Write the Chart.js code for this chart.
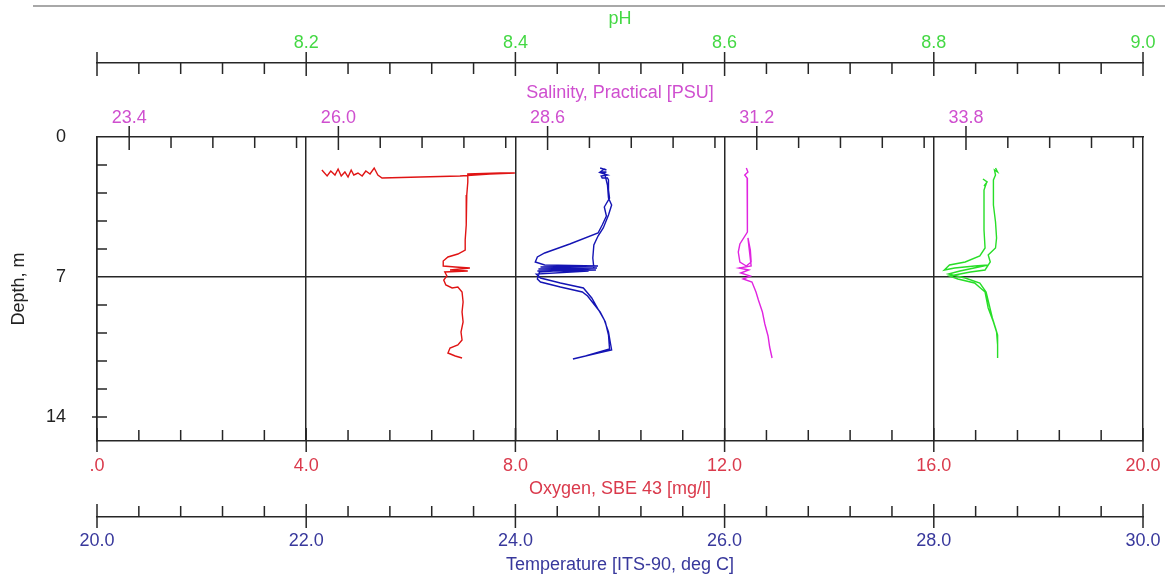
<!DOCTYPE html>
<html>
<head>
<meta charset="utf-8">
<title>CTD cast profile</title>
<script src="https://cdn.jsdelivr.net/npm/chart.js@4.4.0/dist/chart.umd.min.js"></script>
<style>
  body { margin: 0; background: #fff; }
  #wrap { position: relative; width: 1165px; height: 579px; }
  #topRule { position: absolute; left: 33px; right: 0; top: 5px; height: 2px; background: #a8a8a8; }
</style>
</head>
<body>
<div id="wrap">
  <canvas id="profile" width="1165" height="579"></canvas>
  <div id="topRule"></div>
</div>
<script>
// Axis tick values
const phTicks = [8.0, 8.2, 8.4, 8.6, 8.8, 9.0];
const salinityTicks = [23.4, 26.0, 28.6, 31.2, 33.8];
const oxygenTicks = [0, 4, 8, 12, 16, 20];
const temperatureTicks = [20, 22, 24, 26, 28, 30];
const depthTicks = [0, 7, 14];

// Oxygen, SBE 43 [mg/l] vs depth [m]
const oxygenValues = [4.30, 4.40, 4.47, 4.55, 4.61, 4.67, 4.74, 4.80, 4.86, 4.91, 4.99, 5.07, 5.14, 5.22, 5.30, 5.37, 5.45,
  6.18, 6.94, 7.51, 7.99, 7.71, 7.09,
  7.09, 7.07, 7.06, 7.06, 7.04, 7.04,
  6.90, 6.71, 6.62, 6.62, 6.85, 7.13, 6.75, 7.09, 6.65, 6.69, 6.63, 6.67, 6.79, 6.90, 6.98, 7.00, 6.98, 7.00, 6.96, 6.98, 6.90, 6.75, 6.71, 6.85, 6.98];
const oxygenDepths = [1.65, 1.95, 1.70, 1.90, 1.60, 1.95, 1.75, 2.00, 1.65, 1.90, 1.80, 1.95, 1.70, 1.85, 1.55, 1.90, 2.05,
  2.00, 1.95, 1.85, 1.80, 1.80, 1.85,
  2.25, 2.90, 3.65, 4.40, 5.15, 5.65,
  5.85, 6.00, 6.20, 6.45, 6.50, 6.55, 6.65, 6.70, 6.75, 6.95, 7.15, 7.40, 7.55, 7.50, 7.75, 8.25, 8.75, 9.25, 9.75, 10.15, 10.40, 10.55, 10.80, 10.95, 11.05];

// Temperature [ITS-90, deg C] vs depth
const temperatureValues = [24.81, 24.87, 24.85, 24.81, 24.87, 24.82, 24.88, 24.82, 24.83, 24.88, 24.89,
  24.89, 24.90, 24.85, 24.87, 24.83, 24.79, 24.52, 24.28, 24.21, 24.19,
  24.28, 24.79, 24.24, 24.78, 24.22, 24.77, 24.21, 24.70, 24.20,
  24.24, 24.43, 24.65, 24.73, 24.79, 24.85, 24.89, 24.91, 24.92, 24.79, 24.67, 24.55,
  24.67, 24.90, 24.89, 24.86, 24.81, 24.69, 24.64, 24.43, 24.24, 24.21,
  24.23, 24.75, 24.74, 24.75, 24.79, 24.84, 24.89, 24.92, 24.89, 24.88, 24.85];
const temperatureDepths = [1.55, 1.65, 1.60, 1.75, 1.75, 1.80, 1.90, 1.95, 2.05, 2.05, 2.15,
  2.65, 3.05, 3.50, 3.95, 4.40, 4.80, 5.35, 5.80, 6.00, 6.25,
  6.40, 6.45, 6.50, 6.55, 6.60, 6.65, 6.70, 6.70, 6.85,
  7.05, 7.30, 7.55, 8.05, 8.60, 9.15, 9.75, 10.35, 10.65, 10.80, 10.95, 11.10,
  10.95, 10.60, 9.90, 9.25, 8.75, 7.95, 7.75, 7.50, 7.25, 7.10,
  6.75, 6.55, 6.05, 5.40, 4.95, 4.55, 3.90, 3.40, 3.05, 2.40, 1.75];

// Salinity, Practical [PSU] vs depth
const salinityValues = [31.07, 31.09, 31.05, 31.08, 31.08, 31.09, 31.08,
  30.99, 30.97, 30.99, 31.07, 31.13, 31.12, 31.09,
  31.13, 30.98, 31.10, 31.00, 31.12, 31.03, 31.14,
  31.19, 31.22, 31.27, 31.30, 31.34, 31.36, 31.39];
const salinityDepths = [1.55, 1.75, 1.90, 2.05, 2.90, 3.90, 4.75,
  5.35, 5.75, 6.25, 6.45, 6.25, 5.65, 5.05,
  6.45, 6.55, 6.65, 6.80, 6.95, 7.10, 7.25,
  7.75, 8.15, 8.75, 9.35, 9.95, 10.50, 11.05];

// pH vs depth
const phValues = [8.847, 8.851, 8.848, 8.850, 8.848, 8.848, 8.848, 8.849, 8.844, 8.830,
  8.815, 8.810, 8.820, 8.839, 8.852, 8.825, 8.814, 8.830, 8.844, 8.850,
  8.853, 8.856, 8.859, 8.861, 8.861, 8.861,
  8.861, 8.860, 8.857, 8.852, 8.849, 8.839, 8.823, 8.815, 8.835, 8.849,
  8.854, 8.852, 8.859, 8.860, 8.859, 8.857, 8.857, 8.857, 8.859, 8.858,
  8.861, 8.859];
const phDepths = [2.10, 2.25, 2.45, 2.35, 2.65, 3.65, 4.65, 5.55, 5.95, 6.25,
  6.40, 6.65, 6.55, 6.45, 6.40, 6.70, 6.85, 7.05, 7.30, 7.75,
  8.40, 9.05, 9.55, 9.90, 10.65, 11.05,
  10.40, 9.75, 9.25, 8.55, 7.75, 7.30, 7.10, 6.95, 6.75, 6.65,
  6.25, 5.90, 5.55, 5.05, 4.25, 3.40, 2.65, 2.15, 1.90, 1.65,
  1.75, 1.55];

const lineColor = '#262626';
const fontFamily = "'Liberation Sans', Arial, sans-serif";
Chart.defaults.font.family = fontFamily;
Chart.defaults.font.size = 18;

function toPoints(values, depths) {
  return values.map((v, i) => ({ x: v, y: depths[i] }));
}

// minor ticks: each major interval split in 5, running out to both ends of the axis
function minorTicks(majors, min, max) {
  const step = (majors[1] - majors[0]) / 5;
  const out = [];
  for (let v = majors[0] - step; v > min + 1e-9; v -= step) out.push(v);
  for (let v = majors[0] + step; v < max - 1e-9; v += step) out.push(v);
  return out.filter(v => !majors.some(m => Math.abs(m - v) < 1e-6));
}

const axisTicks = [
  { id: 'ph', side: 'top', major: phTicks, minor: minorTicks(phTicks, 8.0, 9.0) },
  { id: 'sal', side: 'top', major: salinityTicks, minor: minorTicks(salinityTicks, 23.0, 36.0) },
  { id: 'ox', side: 'bottom', major: oxygenTicks, minor: minorTicks(oxygenTicks, 0, 20) },
  { id: 'temp', side: 'bottom', major: temperatureTicks, minor: minorTicks(temperatureTicks, 20, 30) }
];
const depthMinor = minorTicks(depthTicks, 0, 15.2);

// SeaBird style tick marks: minor ticks point inward, major ticks cross the axis line
const tickMarks = {
  id: 'tickMarks',
  afterDraw(chart) {
    const ctx = chart.ctx;
    ctx.save();
    ctx.strokeStyle = lineColor;
    ctx.lineWidth = 1.5;
    ctx.beginPath();
    axisTicks.forEach(a => {
      const scale = chart.scales[a.id];
      const lineY = a.side === 'top' ? scale.bottom : scale.top;
      const dir = a.side === 'top' ? 1 : -1;
      a.minor.forEach(v => {
        const x = scale.getPixelForValue(v);
        ctx.moveTo(x, lineY);
        ctx.lineTo(x, lineY + dir * 11);
      });
      a.major.forEach(v => {
        const x = scale.getPixelForValue(v);
        ctx.moveTo(x, lineY - dir * 11);
        ctx.lineTo(x, lineY + dir * 13);
      });
    });
    const ys = chart.scales.y;
    depthMinor.forEach(v => {
      const y = ys.getPixelForValue(v);
      ctx.moveTo(ys.right, y);
      ctx.lineTo(ys.right + 10, y);
    });
    const y14 = ys.getPixelForValue(14);
    ctx.moveTo(ys.right - 5, y14);
    ctx.lineTo(ys.right + 10, y14);
    ctx.stroke();
    ctx.restore();
  }
};

function series(values, depths, axis, color) {
  return {
    data: toPoints(values, depths),
    xAxisID: axis,
    yAxisID: 'y',
    showLine: true,
    borderColor: color,
    borderWidth: 1.4,
    pointRadius: 0,
    tension: 0,
    fill: false
  };
}

// fixed band height, and no extra side padding for the end labels
function fixHeight(height) {
  return s => {
    s.height = height;
    s.paddingLeft = 0;
    s.paddingRight = 0;
  };
}

function topAxis(min, max, ticks, weight, height, color, title, labelPad, titlePad, fmt) {
  return {
    type: 'linear', axis: 'x', position: 'top', weight: weight, min: min, max: max,
    afterBuildTicks: s => { s.ticks = ticks.map(v => ({ value: v })); },
    afterFit: fixHeight(height),
    grid: { display: false, drawTicks: false },
    border: { display: true, color: lineColor, width: 1.5 },
    ticks: { color: color, padding: labelPad, autoSkip: false, maxRotation: 0, callback: fmt },
    title: { display: true, text: title, color: color, padding: { top: titlePad, bottom: 0 } }
  };
}

function bottomAxis(min, max, ticks, weight, height, color, title, labelPad, titlePad, fmt, grid) {
  return {
    type: 'linear', axis: 'x', position: 'bottom', weight: weight, min: min, max: max,
    afterBuildTicks: s => { s.ticks = ticks.map(v => ({ value: v })); },
    afterFit: fixHeight(height),
    grid: grid ? { display: true, drawTicks: false, color: lineColor, lineWidth: 1.5 } : { display: false, drawTicks: false },
    border: { display: true, color: lineColor, width: 1.5 },
    ticks: { color: color, padding: labelPad, autoSkip: false, maxRotation: 0, callback: fmt },
    title: { display: true, text: title, color: color, padding: { top: 0, bottom: titlePad } }
  };
}

new Chart(document.getElementById('profile'), {
  type: 'scatter',
  data: {
    datasets: [
      series(oxygenValues, oxygenDepths, 'ox', '#e01414'),
      series(temperatureValues, temperatureDepths, 'temp', '#1414b4'),
      series(salinityValues, salinityDepths, 'sal', '#e024e0'),
      series(phValues, phDepths, 'ph', '#28de28')
    ]
  },
  options: {
    responsive: false,
    animation: false,
    events: [],
    layout: { autoPadding: false, padding: { left: 0, right: 22, top: 0, bottom: 0 } },
    plugins: { legend: { display: false }, tooltip: { enabled: false } },
    scales: {
      ph: topAxis(8.0, 9.0, phTicks, 1, 63, '#44d844', 'pH', 9, 8,
        v => (v === 8.0 ? '' : v.toFixed(1))),
      sal: topAxis(23.0, 36.0, salinityTicks, 0, 74, '#cf4fcf', 'Salinity, Practical [PSU]', 8, 19,
        v => v.toFixed(1)),
      ox: bottomAxis(0, 20, oxygenTicks, 0, 76, '#da3a4c', 'Oxygen, SBE 43 [mg/l]', 14, 17,
        v => (v === 0 ? '.0' : v.toFixed(1)), true),
      temp: bottomAxis(20, 30, temperatureTicks, 1, 62, '#38389c', 'Temperature [ITS-90, deg C]', 13, 3,
        v => v.toFixed(1), false),
      y: {
        type: 'linear', axis: 'y', position: 'left', reverse: true, min: 0, max: 15.2,
        afterBuildTicks: s => { s.ticks = depthTicks.map(v => ({ value: v })); },
        afterFit: s => { s.width = 97; s.paddingTop = 0; s.paddingBottom = 0; },
        grid: {
          drawTicks: false, lineWidth: 1.5,
          color: c => (c.tick && c.tick.value === 7 ? lineColor : 'rgba(0,0,0,0)')
        },
        border: { display: true, color: lineColor, width: 1.5 },
        ticks: { color: '#222', padding: 31, callback: v => String(v) },
        title: { display: true, text: 'Depth, m', color: '#222', padding: { top: 8, bottom: 0 } }
      }
    }
  },
  plugins: [tickMarks]
});
</script>
</body>
</html>
